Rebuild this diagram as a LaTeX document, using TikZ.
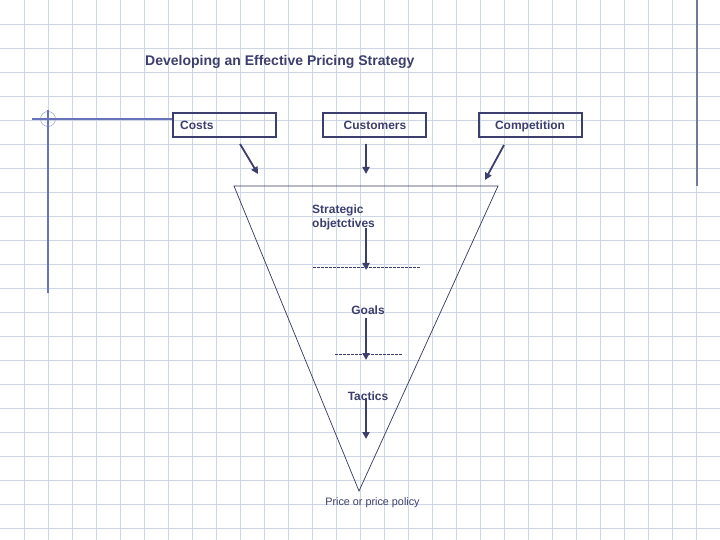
\documentclass[tikz,border=0pt]{standalone}
\usepackage{fontspec}
\setmainfont{Liberation Sans}
\usetikzlibrary{arrows.meta}
\definecolor{navy}{RGB}{60,62,110}
\definecolor{gridc}{RGB}{205,214,228}
\definecolor{deco}{RGB}{105,115,185}
\definecolor{decogray}{RGB}{115,122,150}
\tikzset{
  px/.style={x=1bp,y=-1bp},
  lbl/.style={text=navy,font=\fontsize{12bp}{14.5bp}\selectfont\bfseries,inner sep=0pt},
  boxn/.style={draw=navy,line width=1.8bp,minimum width=103bp,minimum height=24bp,inner sep=0pt},
  arr/.style={draw=navy,line width=1.8bp,-{Triangle[length=7bp,width=7bp]}},
  dsh/.style={draw=navy,line width=0.6bp,dash pattern=on 2.5bp off 1.5bp},
  tri/.style={draw=navy!85!black,line width=0.7bp},
}
\begin{document}
\begin{tikzpicture}[px]
\useasboundingbox (0,0) rectangle (720,540);
\fill[white] (0,0) rectangle (720,540);
% grid
\foreach \i in {1,...,29} {\draw[gridc,line width=0.8bp] (24*\i+0.3,0) -- (24*\i+0.3,540);}
\foreach \j in {1,...,22} {\draw[gridc,line width=0.8bp] (0,24*\j+0.3) -- (720,24*\j+0.3);}
% decorative lines
\coordinate (dh1) at (32,119);
\coordinate (dv1) at (48,110);
\coordinate (dv2) at (48,293);
\coordinate (rv1) at (697,0);
\coordinate (rv2) at (697,186);
\node[circle,draw=deco!70,line width=0.5bp,minimum size=15bp,inner sep=0pt] (ring) at (48,119) {};
\draw[decogray,line width=1.2bp] (rv1) -- (rv2);
% title
\node[anchor=base west,text=navy,font=\fontsize{14bp}{16bp}\selectfont\bfseries,inner sep=0pt] (title) at (145,65.5) {Developing an Effective Pricing Strategy};
% boxes
\node[boxn] (costs) at (224.5,125) {};
\node[lbl,anchor=base west] (costst) at (180,129.5) {Costs};
\node[boxn] (cust) at (374.5,125) {};
\node[lbl,anchor=base] (custt) at (375,129.5) {Customers};
\node[boxn] (comp) at (530.5,125) {};
\node[lbl,anchor=base] (compt) at (530,129.5) {Competition};
\draw[deco,line width=1.2bp] (dh1) -- (dh1 -| costs.west);
\draw[deco,line width=1.2bp] (dv1) -- (dv2);
% funnel
\coordinate (tl) at (234,186);
\coordinate (tr) at (498,186);
\coordinate (tb) at (359,491);
\draw[tri] (tl) -- (tr) -- (tb) -- cycle;
% top arrows
\coordinate (a1s) at (240,144); \coordinate (a1e) at (258,174);
\coordinate (a2s) at (366,144); \coordinate (a2e) at (366,174);
\coordinate (a3s) at (504,145); \coordinate (a3e) at (485,180);
\draw[arr] (a1s) -- (a1e);
\draw[arr] (a2s) -- (a2e);
\draw[arr] (a3s) -- (a3e);
% inner labels
\node[lbl,anchor=base west,align=left] (strat) at (312,227.8) {Strategic\\objetctives};
\node[lbl,anchor=base] (goals) at (368,314) {Goals};
\node[lbl,anchor=base] (tact) at (368,400) {Tactics};
\node[text=navy,font=\fontsize{10.8bp}{12bp}\selectfont,inner sep=0pt,anchor=base] (price) at (372.5,505) {Price or price policy};
% dashed lines
\coordinate (d1a) at (313,267); \coordinate (d1b) at (420,267);
\coordinate (d2a) at (335,354); \coordinate (d2b) at (402,354);
\draw[dsh] (d1a) -- (d1b);
\draw[dsh] (d2a) -- (d2b);
% inner arrows
\coordinate (b1s) at (366,228); \coordinate (b1e) at (366,270);
\coordinate (b2s) at (366,318); \coordinate (b2e) at (366,360);
\coordinate (b3s) at (366,398); \coordinate (b3e) at (366,439);
\draw[arr] (b1s) -- (b1e);
\draw[arr] (b2s) -- (b2e);
\draw[arr] (b3s) -- (b3e);
\end{tikzpicture}
\end{document}
